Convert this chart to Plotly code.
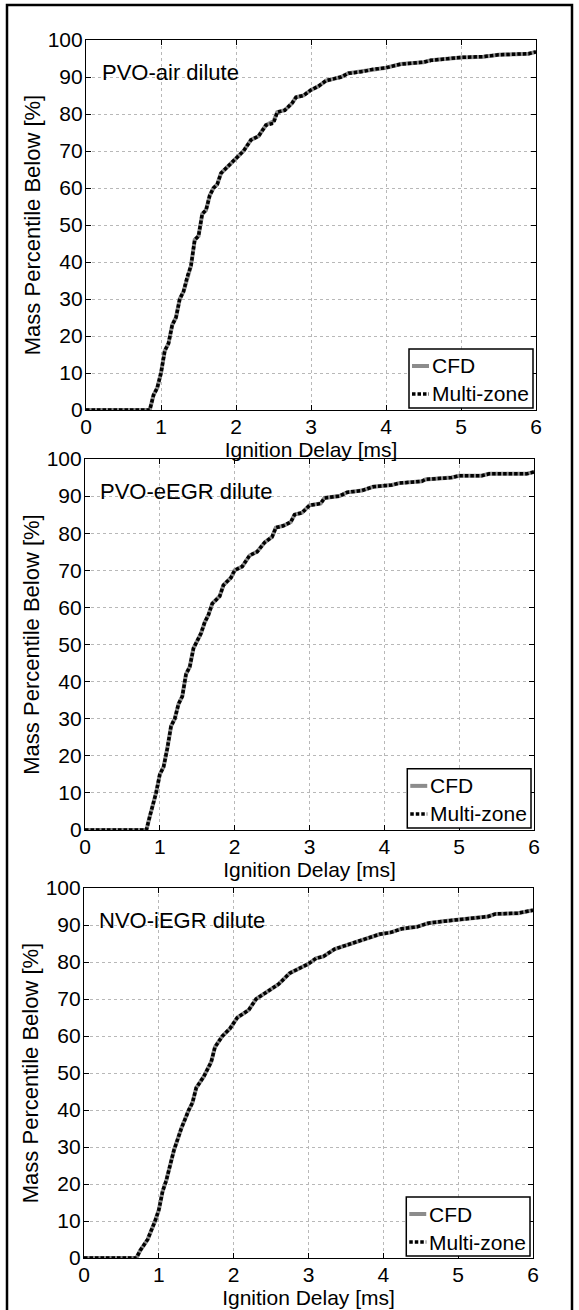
import plotly.graph_objects as go

# ---------------- data ----------------
panel_labels = ["PVO-air dilute", "PVO-eEGR dilute", "NVO-iEGR dilute"]
series_names = ["CFD", "Multi-zone"]
x_ticks = [0, 1, 2, 3, 4, 5, 6]
y_ticks = [0, 10, 20, 30, 40, 50, 60, 70, 80, 90, 100]

air_x = [0, 0.85, 0.9, 0.95, 1.0, 1.05, 1.1, 1.15, 1.2, 1.25, 1.3, 1.35, 1.4, 1.45, 1.5,
         1.55, 1.6, 1.65, 1.7, 1.75, 1.8, 1.85, 1.9, 2.0, 2.1, 2.2, 2.3, 2.4, 2.5, 2.55,
         2.65, 2.75, 2.8, 2.9, 3.0, 3.1, 3.2, 3.3, 3.4, 3.5, 3.7, 3.8, 4.0, 4.2, 4.5,
         4.6, 4.9, 5.0, 5.3, 5.5, 5.9, 6.0]
air_cfd = [0, 0, 4, 6, 10, 16, 18, 23, 25, 30, 32, 36, 39, 46, 47,
           53, 54, 58, 60, 61, 64, 65, 66, 68, 70, 73, 74, 77, 78, 80.5,
           81, 83, 84.5, 85, 86.5, 87.5, 89, 89.5, 90, 91, 91.5, 92, 92.5, 93.5, 94,
           94.5, 95, 95.3, 95.5, 96, 96.3, 96.8]
air_mz = [0, 0, 4, 6, 10, 16, 18, 23, 25, 30, 32, 36, 39, 46, 47,
          53, 54, 58, 60, 61, 64, 65, 66, 68, 70, 73, 74, 77, 77.5, 80.5,
          81, 83, 84.5, 85, 86.5, 87.5, 89, 89.5, 90, 91, 91.5, 92, 92.5, 93.5, 94,
          94.5, 95, 95.3, 95.5, 96, 96.3, 96.8]

eegr_x = [0, 0.82, 0.87, 0.95, 1.0, 1.05, 1.1, 1.15, 1.2, 1.25, 1.3, 1.35, 1.4, 1.45,
          1.5, 1.55, 1.6, 1.65, 1.7, 1.8, 1.85, 1.95, 2.0, 2.1, 2.2, 2.3, 2.4, 2.5, 2.55,
          2.65, 2.75, 2.8, 2.9, 3.0, 3.15, 3.2, 3.4, 3.5, 3.7, 3.85, 4.1, 4.2, 4.5, 4.55,
          4.9, 5.0, 5.3, 5.4, 5.9, 6.0]
eegr_cfd = [0, 0, 4, 10, 15, 17, 22, 28, 30, 34, 36, 42, 44, 49,
            51, 53, 56, 58, 61, 63, 66, 68, 70, 71, 74, 75, 77.5, 79, 81.5,
            82, 83, 85, 85.5, 87.5, 88, 89.5, 90, 91, 91.5, 92.5, 93, 93.5, 94, 94.5,
            95, 95.5, 95.5, 96, 96, 96.5]
eegr_mz = [0, 0, 4, 10, 15, 17, 22, 28, 30, 34, 36, 42, 44, 49,
           51, 53, 56, 58, 61, 63, 66, 68, 70, 71, 74, 75, 77.5, 79, 81.5,
           82, 83, 85, 85.5, 87.5, 88, 89.5, 90, 91, 91.5, 92.5, 93, 93.5, 94, 94.5,
           95, 95.5, 95.5, 96, 96, 96.5]

iegr_x = [0, 0.7, 0.75, 0.85, 0.95, 1.0, 1.05, 1.1, 1.2, 1.25, 1.3, 1.4, 1.45, 1.5,
          1.6, 1.7, 1.75, 1.85, 1.95, 2.05, 2.2, 2.3, 2.45, 2.6, 2.75, 2.9, 3.0, 3.1,
          3.2, 3.35, 3.5, 3.65, 3.8, 3.95, 4.1, 4.25, 4.45, 4.6, 4.8, 5.0, 5.2, 5.4,
          5.5, 5.8, 6.0]
iegr_cfd = [0, 0, 2, 5, 10, 13, 18, 21, 29, 32, 35, 40, 42, 46,
            49, 53, 57, 60, 62, 65, 67, 70, 72, 74, 77, 78.5, 79.5, 81,
            81.5, 83.5, 84.5, 85.5, 86.5, 87.5, 88, 89, 89.5, 90.5, 91, 91.5, 92, 92.3,
            93, 93.2, 94]
iegr_mz = [0, 0, 2, 5, 10, 13, 18, 21, 29, 32, 35, 40, 42, 46,
           49, 53, 57, 60, 62, 65, 67, 70, 72, 74, 77, 78.5, 79.5, 81,
           81.5, 83.5, 84.5, 85.5, 86.5, 87.5, 88, 89, 89.5, 90.5, 91, 91.5, 92, 92.3,
           93, 93.2, 94]

panels = [
    (air_x, air_cfd, air_mz),
    (eegr_x, eegr_cfd, eegr_mz),
    (iegr_x, iegr_cfd, iegr_mz),
]

# ---------------- layout geometry ----------------
W, H = 579, 1310
# (left, right, top, bottom) in pixels
boxes = [(86, 536, 40, 410), (85, 534, 459, 830), (84, 533, 888, 1258)]
FONT = "Liberation Sans, Arial, sans-serif"
CFD_COLOR = "#8c8c8c"
MZ_DASH = "3.5px,2px"

fig = go.Figure()
layout = dict(
    width=W, height=H,
    margin=dict(l=0, r=0, t=0, b=0),
    paper_bgcolor="white", plot_bgcolor="white",
    font=dict(family=FONT, size=21, color="black"),
    showlegend=False,
    shapes=[], annotations=[],
)

for i, ((px, cfd, mz), (l, r, t, b)) in enumerate(zip(panels, boxes)):
    n = "" if i == 0 else str(i + 1)
    xa, ya = "x" + n, "y" + n
    fig.add_trace(go.Scatter(x=px, y=cfd, mode="lines", name=series_names[0],
                             line=dict(color=CFD_COLOR, width=4),
                             xaxis=xa, yaxis=ya))
    fig.add_trace(go.Scatter(x=px, y=mz, mode="lines", name=series_names[1],
                             line=dict(color="black", width=3.5, dash=MZ_DASH),
                             xaxis=xa, yaxis=ya))
    axcommon = dict(
        automargin=False,
        showline=True, linecolor="black", linewidth=1.2, mirror="ticks",
        ticks="inside", ticklen=5, tickwidth=1.2, tickcolor="black",
        showgrid=True, gridcolor="#b8b8b8", griddash="dot", gridwidth=1,
        zeroline=False, tickfont=dict(size=21, family=FONT, color="black"),
    )
    layout["xaxis" + n] = dict(
        axcommon, domain=[l / W, r / W], range=[0, 6], tickvals=x_ticks,
        anchor=ya, ticklabelstandoff=-2,
        title=dict(text="Ignition Delay [ms]", font=dict(size=21, family=FONT), standoff=0),
    )
    layout["yaxis" + n] = dict(
        axcommon, domain=[1 - b / H, 1 - t / H], range=[0, 100], tickvals=y_ticks,
        anchor=xa, ticklabelstandoff=-2,
        title=dict(text="Mass Percentile Below [%]", font=dict(size=22, family=FONT), standoff=0),
    )
    xd, yd = xa + " domain", ya + " domain"
    # panel label
    layout["annotations"].append(dict(
        text=panel_labels[i], x=0.03, y=0.913, xref=xd, yref=yd,
        xanchor="left", yanchor="middle", showarrow=False,
        font=dict(size=22, family=FONT, color="black"),
    ))
    # legend box (MATLAB style)
    lx0, lx1 = (409 - 86) / 450, (533 - 86) / 450
    ly0, ly1 = 2 / 370, 61 / 370
    layout["shapes"].append(dict(type="rect", xref=xd, yref=yd, x0=lx0, x1=lx1,
                                 y0=ly0, y1=ly1, fillcolor="white",
                                 line=dict(color="black", width=1.5), layer="above"))
    rows = [(44 / 370, CFD_COLOR, "solid", 4, series_names[0]),
            (16 / 370, "black", MZ_DASH, 3.5, series_names[1])]
    for ry, col, dsh, wd, txt in rows:
        layout["shapes"].append(dict(type="line", xref=xd, yref=yd,
                                     x0=(412 - 86) / 450, x1=(429 - 86) / 450, y0=ry, y1=ry,
                                     line=dict(color=col, width=wd, dash=dsh), layer="above"))
        layout["annotations"].append(dict(
            text=txt, x=(430 - 86) / 450, y=ry, xref=xd, yref=yd,
            xanchor="left", yanchor="middle", showarrow=False,
            font=dict(size=21, family=FONT, color="black"),
        ))

# outer frame
layout["shapes"].append(dict(type="rect", xref="paper", yref="paper",
                             x0=7 / W, x1=572 / W, y0=-0.01, y1=1 - 5 / H,
                             line=dict(color="black", width=2.5)))

fig.update_layout(**layout)
fig.write_html("out.html")
